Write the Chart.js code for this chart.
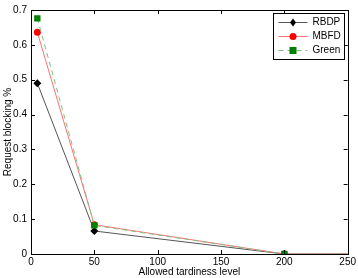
<!DOCTYPE html>
<html lang="en">
<head>
    <meta charset="UTF-8">
    <title>Request blocking vs tardiness</title>
    <script src="https://cdn.jsdelivr.net/npm/chart.js"></script>
    <style>
        body, html {
            margin: 0;
            padding: 0;
            background: #fff;
        }
        #wrap {
            width: 358px;
            height: 278px;
        }
    </style>
</head>
<body>
    <div id="wrap"><canvas id="chart" width="358" height="278"></canvas></div>

    <script>
        // Data
        const tardiness = [5, 50, 200, 300];
        const rbdp = [0.49, 0.066, 0, 0];
        const mbfd = [0.636, 0.084, 0, 0];
        const green = [0.676, 0.082, 0, 0];
        const xTicks = [0, 50, 100, 150, 200, 250];
        const yTicks = [0, 0.1, 0.2, 0.3, 0.4, 0.5, 0.6, 0.7];

        const FONT = 'Liberation Sans, Arial, sans-serif';

        function points(ys) {
            return tardiness.map((x, i) => ({ x: x, y: ys[i] }));
        }

        // Frame, inward ticks and the boxed legend, Matlab style
        const framePlugin = {
            id: 'frame',
            afterDatasetsDraw(chart) {
                const ctx = chart.ctx;
                const a = chart.chartArea;
                const xs = chart.scales.x, ys = chart.scales.y;
                ctx.save();
                ctx.strokeStyle = '#000';
                ctx.lineWidth = 1;
                ctx.beginPath();
                xTicks.forEach(v => {
                    const px = Math.round(xs.getPixelForValue(v)) + 0.5;
                    ctx.moveTo(px, a.bottom); ctx.lineTo(px, a.bottom - 4);
                    ctx.moveTo(px, a.top); ctx.lineTo(px, a.top + 4);
                });
                yTicks.forEach(v => {
                    const py = Math.round(ys.getPixelForValue(v)) + 0.5;
                    ctx.moveTo(a.left, py); ctx.lineTo(a.left + 4, py);
                    ctx.moveTo(a.right, py); ctx.lineTo(a.right - 4, py);
                });
                ctx.stroke();
                ctx.strokeRect(Math.round(a.left) + 0.5, Math.round(a.top) + 0.5,
                    Math.round(a.right - a.left), Math.round(a.bottom - a.top));

                // legend box
                const bw = 71, bh = 46;
                const bx = Math.round(a.right) - bw - 3.5, by = Math.round(a.top) + 3.5;
                ctx.fillStyle = '#fff';
                ctx.fillRect(bx, by, bw, bh);
                ctx.strokeRect(bx, by, bw, bh);
                ctx.font = '10px ' + FONT;
                ctx.textBaseline = 'middle';
                chart.data.datasets.forEach((ds, i) => {
                    const ly = by + 9 + i * 14;
                    ctx.save();
                    ctx.strokeStyle = ds.borderColor;
                    ctx.lineWidth = 1;
                    ctx.setLineDash(ds.borderDash || []);
                    ctx.beginPath();
                    ctx.moveTo(bx + 5, ly); ctx.lineTo(bx + 34, ly);
                    ctx.stroke();
                    ctx.restore();
                    const mx = bx + 19.5;
                    ctx.fillStyle = ds.pointBackgroundColor;
                    ctx.beginPath();
                    if (ds.pointStyle === 'circle') {
                        ctx.arc(mx, ly, 3.5, 0, Math.PI * 2);
                    } else if (ds.pointStyle === 'rect') {
                        ctx.rect(mx - 3.5, ly - 3.5, 7, 7);
                    } else {
                        ctx.moveTo(mx, ly - 4); ctx.lineTo(mx + 3, ly);
                        ctx.lineTo(mx, ly + 4); ctx.lineTo(mx - 3, ly);
                        ctx.closePath();
                    }
                    ctx.fill();
                    ctx.fillStyle = '#000';
                    ctx.fillText(ds.label, bx + 39, ly);
                });
                ctx.restore();
            }
        };

        new Chart(document.getElementById('chart'), {
            type: 'line',
            data: {
                datasets: [{
                    label: 'RBDP',
                    data: points(rbdp),
                    order: 2,
                    borderColor: '#555555',
                    borderWidth: 1,
                    pointStyle: 'rectRot',
                    pointRadius: 4,
                    pointBackgroundColor: '#000',
                    pointBorderColor: '#000',
                    pointBorderWidth: 0,
                    clip: 0
                }, {
                    label: 'MBFD',
                    data: points(mbfd),
                    order: 1,
                    borderColor: '#ff7070',
                    borderWidth: 1,
                    pointStyle: 'circle',
                    pointRadius: 3.5,
                    pointBackgroundColor: '#ff0000',
                    pointBorderColor: '#ff0000',
                    pointBorderWidth: 0,
                    clip: 0
                }, {
                    label: 'Green',
                    data: points(green),
                    order: 0,
                    borderColor: '#80c080',
                    borderWidth: 1,
                    borderDash: [5, 4],
                    pointStyle: 'rect',
                    pointRadius: 4.5,
                    pointBackgroundColor: '#008000',
                    pointBorderColor: '#008000',
                    pointBorderWidth: 0,
                    clip: 0
                }]
            },
            options: {
                responsive: false,
                animation: false,
                layout: { padding: { top: 3, right: 8, left: 0, bottom: 0 } },
                plugins: {
                    legend: { display: false },
                    tooltip: { enabled: false }
                },
                scales: {
                    x: {
                        type: 'linear',
                        min: 0,
                        max: 250,
                        grid: { display: false, drawTicks: false, tickLength: 0 },
                        border: { display: false },
                        afterBuildTicks: s => { s.ticks = xTicks.map(v => ({ value: v })); },
                        afterFit: s => { s.height = 24; },
                        ticks: {
                            color: '#000',
                            padding: 2,
                            maxRotation: 0,
                            font: { family: FONT, size: 10 }
                        },
                        title: {
                            display: true,
                            text: 'Allowed tardiness level',
                            color: '#000',
                            padding: 0,
                            font: { family: FONT, size: 10 }
                        }
                    },
                    y: {
                        min: 0,
                        max: 0.7,
                        grid: { display: false, drawTicks: false, tickLength: 0 },
                        border: { display: false },
                        afterBuildTicks: s => { s.ticks = yTicks.map(v => ({ value: v })); },
                        afterFit: s => { s.width = 31; },
                        ticks: {
                            color: '#000',
                            padding: 4,
                            font: { family: FONT, size: 10 },
                            callback: v => (v === 0 ? '0' : v.toFixed(1))
                        },
                        title: {
                            display: true,
                            text: 'Request blocking %',
                            color: '#000',
                            padding: { top: 2, bottom: 0 },
                            font: { family: FONT, size: 10 }
                        }
                    }
                }
            },
            plugins: [framePlugin]
        });
    </script>
</body>
</html>
